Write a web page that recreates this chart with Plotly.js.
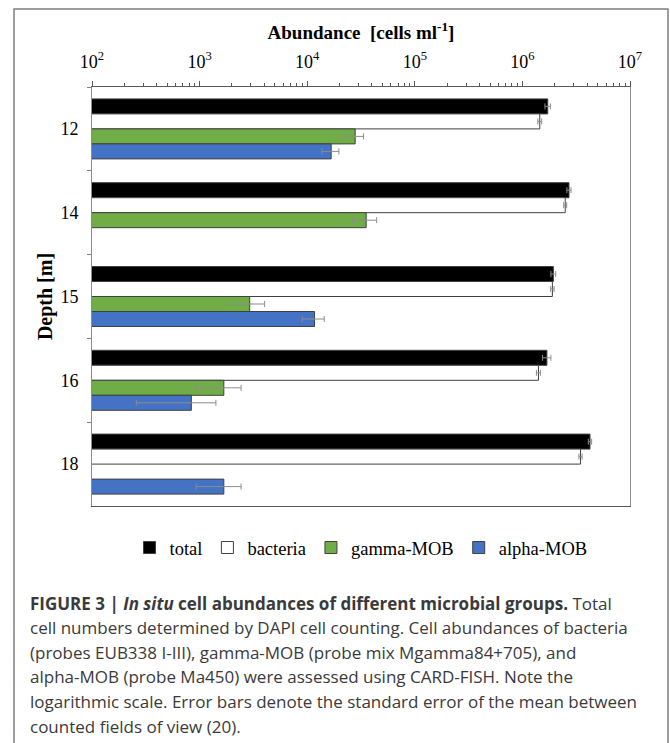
<!DOCTYPE html>
<html><head><meta charset="utf-8">
<script src="https://cdn.plot.ly/plotly-3.0.1.min.js"></script>
<style>html,body{margin:0;padding:0;background:#fff}#chart{width:670px;height:743px}</style>
</head><body><div id="chart"></div>
<script>
// ---- data ----
const depths = ['12', '14', '15', '16', '18'];
const seriesNames = ['total', 'bacteria', 'gamma-MOB', 'alpha-MOB'];
const totalVals    = [1.72e6, 2.71e6, 1.94e6, 1.69e6, 4.25e6];
const totalErr     = [0.10e6, 0.12e6, 0.10e6, 0.15e6, 0.15e6];
const bacteriaVals = [1.45e6, 2.50e6, 1.90e6, 1.41e6, 3.47e6];
const bacteriaErr  = [0.06e6, 0.08e6, 0.07e6, 0.06e6, 0.12e6];
const gammaVals    = [2.79e4, 3.53e4, 2.92e3, 1.68e3, null];
const gammaErr     = [5.5e3, 8.9e3, 1.1e3, 750, null];
const alphaVals    = [1.67e4, null, 1.17e4, 838, 1.68e3];
const alphaErr     = [3.0e3, null, 2.7e3, 580, 750];
const tickVals = [1e2, 1e3, 1e4, 1e5, 1e6, 1e7];
const tickText = ['10<sup>2</sup>', '10<sup>3</sup>', '10<sup>4</sup>', '10<sup>5</sup>', '10<sup>6</sup>', '10<sup>7</sup>'];
const captionLines = [
  '<b>FIGURE 3 | <i>In situ</i> cell abundances of different microbial groups.</b> Total',
  'cell numbers determined by DAPI cell counting. Cell abundances of bacteria',
  '(probes EUB338 I-III), gamma-MOB (probe mix Mgamma84+705), and',
  'alpha-MOB (probe Ma450) were assessed using CARD-FISH. Note the',
  'logarithmic scale. Error bars denote the standard error of the mean between',
  'counted fields of view (20).'
];

// ---- styling ----
const W = 670, H = 743;
const M = {l: 92, r: 40, t: 87, b: 237};
const pw = W - M.l - M.r, ph = H - M.t - M.b;
const px = x => (x - M.l) / pw;
const py = y => (H - M.b - y) / ph;
const serif = 'Liberation Serif, Times New Roman, serif';
const sans = 'Open Sans, Liberation Sans, Arial, sans-serif';
const fills = ['#000000', '#ffffff', '#70AD47', '#4472C4'];
const vals = [totalVals, bacteriaVals, gammaVals, alphaVals];
const errs = [totalErr, bacteriaErr, gammaErr, alphaErr];

const traces = seriesNames.map((name, i) => ({
  type: 'bar', orientation: 'h', name: name,
  y: depths, x: vals[i],
  marker: {color: fills[i], line: {color: '#404040', width: 1}},
  error_x: {type: 'data', array: errs[i], visible: true, color: '#8c8c8c', thickness: 1, width: 3},
  hoverinfo: 'x+name'
}));

const annotations = captionLines.map((t, i) => ({
  xref: 'paper', yref: 'paper', x: px(28), y: py(603 + i * 24.6),
  xanchor: 'left', yanchor: 'middle', showarrow: false, align: 'left',
  text: t, font: {family: sans, size: 17, color: '#3a3a3a'}
}));

const layout = {
  width: W, height: H, margin: M,
  paper_bgcolor: '#fff', plot_bgcolor: '#fff',
  barmode: 'group', bargap: 0.284, bargroupgap: 0,
  showlegend: true,
  legend: {orientation: 'h', x: 0.5, xanchor: 'center', y: py(548), yanchor: 'middle',
           itemwidth: 30,
           font: {family: serif, size: 18.5, color: '#000'}, traceorder: 'normal'},
  xaxis: {
    type: 'log', range: [2, 7], side: 'top',
    tickmode: 'array', tickvals: tickVals, ticktext: tickText,
    ticks: 'outside', ticklen: 5, tickcolor: '#595959', tickwidth: 1,
    minor: {dtick: 'D1', ticks: 'outside', ticklen: 3, tickcolor: '#595959', showgrid: false},
    ticklabelstandoff: 6,
    showgrid: false, zeroline: false,
    showline: true, linecolor: '#595959', linewidth: 1, mirror: true,
    tickfont: {family: serif, size: 18, color: '#000'},
    title: {text: '<b>Abundance  [cells ml<sup>-1</sup>]</b>', font: {family: serif, size: 19, color: '#000'}, standoff: 4},
    fixedrange: true
  },
  yaxis: {
    type: 'category', categoryorder: 'array', categoryarray: depths, autorange: 'reversed',
    tickson: 'boundaries', ticks: 'outside', ticklen: 4, tickcolor: '#7f7f7f',
    ticklabelstandoff: 9,
    showgrid: false, zeroline: false,
    showline: true, linecolor: '#8c8c8c', linewidth: 1, mirror: true,
    tickfont: {family: serif, size: 18, color: '#000'},
    title: {text: '<b>Depth [m]</b>', font: {family: serif, size: 20, color: '#000'}, standoff: 2},
    fixedrange: true
  },
  shapes: [{
    type: 'rect', xref: 'paper', yref: 'paper',
    x0: px(14), x1: px(668), y0: py(760), y1: py(9),
    line: {color: '#7f7f7f', width: 1.5}, fillcolor: 'rgba(0,0,0,0)', layer: 'below'
  }],
  annotations: annotations
};

Plotly.newPlot('chart', traces, layout, {staticPlot: true, displayModeBar: false});
</script></body></html>
